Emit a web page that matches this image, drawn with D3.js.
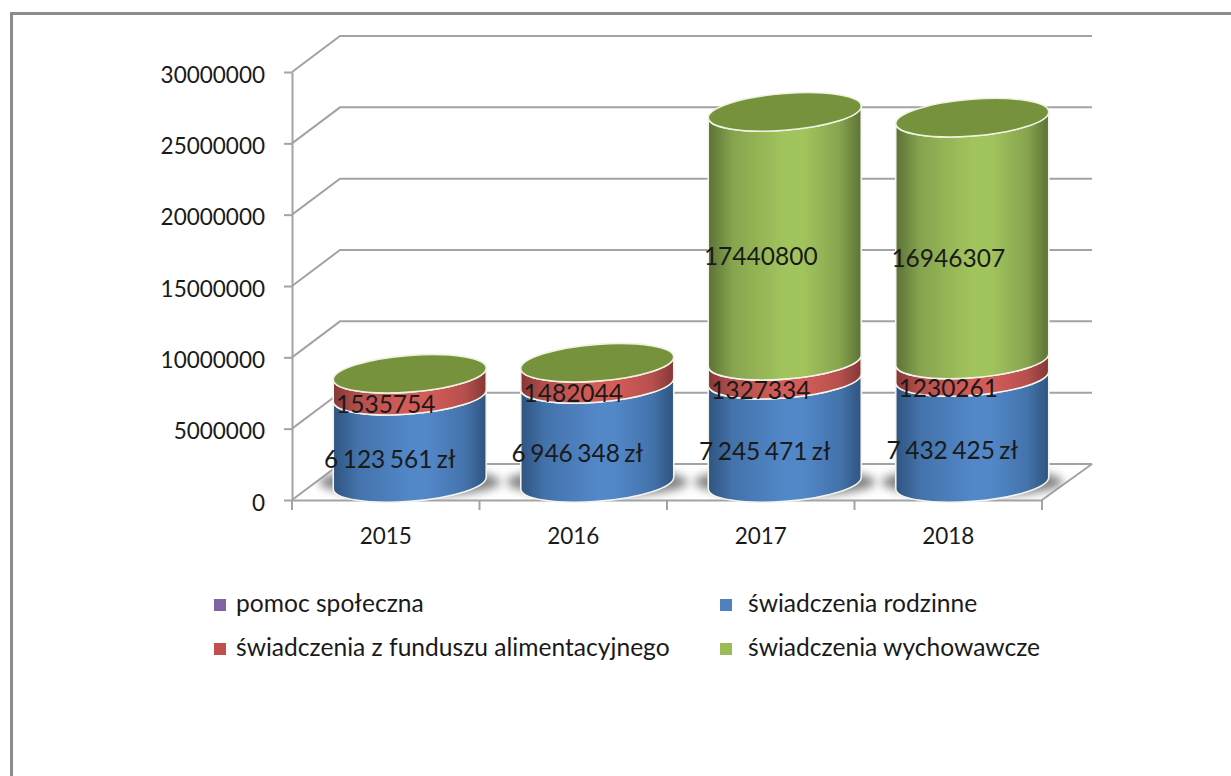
<!DOCTYPE html>
<html>
<head>
<meta charset="utf-8">
<title>Świadczenia 2015-2018</title>
<script src="https://cdn.jsdelivr.net/npm/d3@7/dist/d3.min.js"></script>
<style>
html, body { margin: 0; padding: 0; background: #fff; }
svg { display: block; }
text { font-family: Lato, "Open Sans", sans-serif; fill: #1a1a1a; }
</style>
</head>
<body>
<svg id="chart" width="1231" height="776"></svg>
<script>
var years = ['2015', '2016', '2017', '2018'];
var rodzinne = [6123561, 6946348, 7245471, 7432425];
var alimentacyjne = [1535754, 1482044, 1327334, 1230261];
var wychowawcze = [0, 0, 17440800, 16946307];
var rodzinneLabels = ['6 123 561 zł', '6 946 348 zł', '7 245 471 zł', '7 432 425 zł'];
var yTicks = [0, 5000000, 10000000, 15000000, 20000000, 25000000, 30000000];
var legendNames = ['pomoc społeczna', 'świadczenia rodzinne', 'świadczenia z funduszu alimentacyjnego', 'świadczenia wychowawcze'];
var legendColors = ['#8064a2', '#4f81bd', '#c0504d', '#9bbb59'];

var svg = d3.select('#chart');
var GRID = '#a3a3a3';
var depthX = 48, depthY = 36;            // back wall offset
var barDx = 24, barDy = 17;              // cylinders stand half way in
var rx = 76.5, ry = 18.4, shear = 0.075; // tilted ellipse of the cylinder caps

var x = d3.scaleBand().domain(years).range([292, 1042]);
var y = d3.scaleLinear().domain([0, 30000000]).range([500, 72]);

// frame of the pasted picture
svg.append('path')
    .attr('d', 'M11.5,776V13.5H1231')
    .attr('fill', 'none')
    .attr('stroke', '#8c8c8c')
    .attr('stroke-width', 3);

var defs = svg.append('defs');

function barGradient(id, dark, mid, light) {
    var g = defs.append('linearGradient').attr('id', id)
        .attr('x1', 0).attr('x2', 1).attr('y1', 0).attr('y2', 0);
    [[0, dark], [0.16, mid], [0.5, light], [0.62, light], [0.86, mid], [1, dark]].forEach(function (s) {
        g.append('stop').attr('offset', s[0]).attr('stop-color', s[1]);
    });
}
barGradient('grad0', '#2f5480', '#4473ab', '#5287c8');
barGradient('grad1', '#843735', '#b5504d', '#d45c58');
barGradient('grad2', '#5c7236', '#86a44e', '#a2c45d');

defs.append('filter').attr('id', 'soft')
    .attr('x', '-30%').attr('y', '-60%').attr('width', '160%').attr('height', '220%')
    .append('feGaussianBlur').attr('stdDeviation', 5);

defs.append('clipPath').attr('id', 'floorClip')
    .append('path')
    .attr('d', 'M' + x.range()[0] + ',' + y(0) + 'L' + x.range()[1] + ',' + y(0) +
        'L' + (x.range()[1] + depthX + 2) + ',' + (y(0) - depthY) +
        'L' + (x.range()[0] + depthX) + ',' + (y(0) - depthY) + 'Z');

// back wall grid with the slanted side lines
var grid = svg.append('g').attr('fill', 'none').attr('stroke', GRID).attr('stroke-width', 2);
grid.selectAll('path').data(yTicks).enter().append('path')
    .attr('d', function (d) {
        return 'M' + x.range()[0] + ',' + y(d) + 'L' + (x.range()[0] + depthX) + ',' + (y(d) - depthY) +
            'H' + (x.range()[1] + depthX + 2);
    });
grid.append('path')
    .attr('d', 'M' + x.range()[1] + ',' + y(0) + 'L' + (x.range()[1] + depthX + 2) + ',' + (y(0) - depthY));

// axes
var yAxis = svg.append('g')
    .attr('transform', 'translate(' + x.range()[0] + ',0)')
    .call(d3.axisLeft(y).tickValues(yTicks).tickSize(8).tickSizeOuter(0).tickPadding(19).tickFormat(d3.format('d')));
var xAxis = svg.append('g')
    .attr('transform', 'translate(0,' + y(0) + ')')
    .call(d3.axisBottom(x).tickSize(0).tickSizeOuter(0).tickPadding(28));
xAxis.selectAll('.bound').data(d3.range(years.length + 1)).enter().append('line')
    .attr('class', 'bound')
    .attr('x1', function (i) { return x.range()[0] + i * x.step(); })
    .attr('x2', function (i) { return x.range()[0] + i * x.step(); })
    .attr('y1', 0).attr('y2', 10);
[yAxis, xAxis].forEach(function (a) {
    a.selectAll('.domain, line').attr('stroke', GRID).attr('stroke-width', 2);
    a.selectAll('text').style('font-size', '22.5px').style('font-family', 'Lato, sans-serif').attr('fill', '#1a1a1a');
});
yAxis.selectAll('text').attr('dy', '0.45em');

// shadows on the floor
svg.append('g').attr('clip-path', 'url(#floorClip)')
    .selectAll('ellipse').data(years).enter().append('ellipse')
    .attr('cx', function (d) { return x(d) + x.bandwidth() / 2 + barDx; })
    .attr('cy', y(0) - barDy - 1)
    .attr('rx', rx + 14).attr('ry', ry - 4)
    .attr('fill', '#808080')
    .attr('filter', 'url(#soft)');

// stacked cylinders
var rows = years.map(function (d, i) {
    return { year: d, a: rodzinne[i], b: alimentacyjne[i], c: wychowawcze[i] };
});
var series = d3.stack().keys(['a', 'b', 'c'])(rows);

function capY(v) { return y(v) - barDy; }

var barGroups = svg.selectAll('.bar').data(rows).enter().append('g')
    .attr('class', 'bar')
    .attr('transform', function (d) {
        return 'matrix(1,' + (-shear) + ',0,1,' + (x(d.year) + x.bandwidth() / 2 + barDx) + ',' + 0 + ')';
    });

series.forEach(function (s, k) {
    barGroups.filter(function (d, i) { return s[i][1] > s[i][0]; })
        .append('path')
        .attr('d', function (d) {
            var p = s[years.indexOf(d.year)];
            var y0 = capY(p[0]), y1 = capY(p[1]);
            return 'M' + (-rx) + ',' + y0 + 'V' + y1 +
                'A' + rx + ',' + ry + ' 0 0 0 ' + rx + ',' + y1 + 'V' + y0 +
                'A' + rx + ',' + ry + ' 0 0 1 ' + (-rx) + ',' + y0 + 'Z';
        })
        .attr('fill', 'url(#grad' + k + ')')
        .attr('stroke', '#f4f4ee')
        .attr('stroke-width', 1.6);
});

// top cap, always green since the sheet fills it with the last series colour
barGroups.append('ellipse')
    .attr('cx', 0)
    .attr('cy', function (d) { return capY(d.a + d.b + d.c); })
    .attr('rx', rx).attr('ry', ry)
    .attr('fill', '#76923c')
    .attr('stroke', '#eef3df')
    .attr('stroke-width', 1.6);

// data labels
var labels = [];
rows.forEach(function (d, i) {
    var cx = x(d.year) + x.bandwidth() / 2;
    labels.push({ x: cx + 4, y: y(d.a / 2), t: rodzinneLabels[i], ws: -1.8 });
    labels.push({ x: cx, y: y(d.a + d.b / 2), t: String(d.b), ws: 0 });
    if (d.c) labels.push({ x: cx, y: y(d.a + d.b + d.c / 2), t: String(d.c), ws: 0 });
});
svg.append('g').selectAll('text').data(labels).enter().append('text')
    .attr('x', function (d) { return d.x; })
    .attr('y', function (d) { return d.y + 3; })
    .attr('dy', '0.35em')
    .attr('text-anchor', 'middle')
    .style('font-size', '24.5px')
    .style('word-spacing', function (d) { return d.ws + 'px'; })
    .text(function (d) { return d.t; });

// legend
var legend = svg.append('g').selectAll('g').data(legendNames).enter().append('g')
    .attr('transform', function (d, i) {
        return 'translate(' + (i % 2 ? 720 : 214) + ',' + (i < 2 ? 599 : 643) + ')';
    });
legend.append('rect')
    .attr('width', 12).attr('height', 12)
    .attr('fill', function (d, i) { return legendColors[i]; });
legend.append('text')
    .attr('x', function (d, i) { return i % 2 ? 28 : 22; })
    .attr('y', 13)
    .style('font-size', '24.6px')
    .text(function (d) { return d; });
</script>
</body>
</html>
